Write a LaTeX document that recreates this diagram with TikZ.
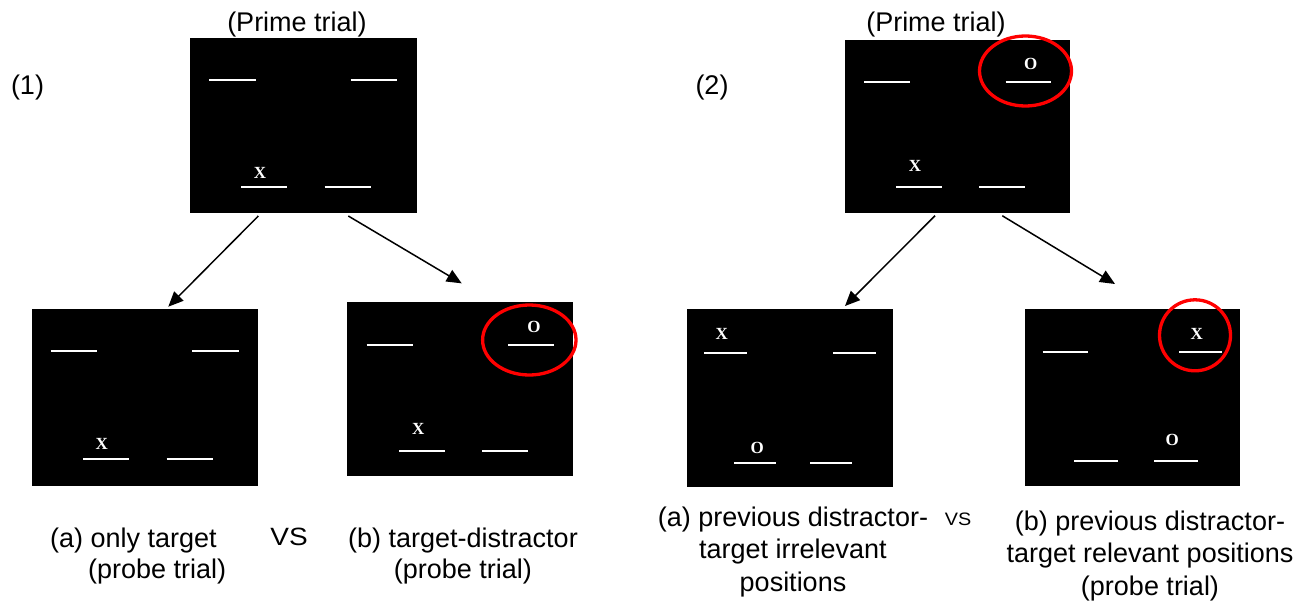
\documentclass[tikz,border=0pt]{standalone}
\usepackage{fontspec}
\usepackage{graphicx}
\setmainfont{Liberation Sans}
\newfontfamily\stimfont{Liberation Serif}
\usetikzlibrary{arrows.meta,calc}
\begin{document}
\begin{tikzpicture}[x=1pt,y=-1pt,
  screen/.style={rectangle, fill=black, draw=none, inner sep=0pt, outer sep=0pt},
  whiteline/.style={white, line width=2pt},
  stim/.style={text=white, font=\stimfont\bfseries\fontsize{17}{17}\selectfont, inner sep=0pt},
  caption/.style={font=\fontsize{27}{31}\selectfont, inner sep=0pt, align=center},
  vstext/.style={inner sep=0pt},
  cue/.style={red, line width=3.3pt},
  conn/.style={black, line width=1.5pt, -{Triangle[length=15pt,width=13pt]}}
]
\useasboundingbox (0,0) rectangle (1312,605);

% ---------- Panel (1) ----------
\node[caption] (t1) at (297,25) {(Prime trial)};
\node[caption] (n1) at (27.5,88) {(1)};

\node[screen, minimum width=227pt, minimum height=175pt] (p1) at (303.5,125.5) {};
\draw[whiteline] (209,80) -- (255.7,80);
\draw[whiteline] (350.7,80) -- (396.7,80);
\draw[whiteline] (241,187.3) -- (287.3,187.3);
\draw[whiteline] (324.7,187.3) -- (370.7,187.3);
\node[stim] (p1x) at (260,173.3) {X};

\node[screen, minimum width=226pt, minimum height=177pt] (a1) at (145,397.5) {};
\draw[whiteline] (50.7,351.3) -- (97.3,351.3);
\draw[whiteline] (192.3,351.3) -- (239,351.3);
\draw[whiteline] (83.3,458.7) -- (129.3,458.7);
\draw[whiteline] (166.7,458.7) -- (212.7,458.7);
\node[stim] (a1x) at (101.7,444) {X};

\node[screen, minimum width=225.4pt, minimum height=173.7pt] (b1) at (460,389.2) {};
\draw[whiteline] (366.7,345) -- (413.3,345);
\draw[whiteline] (508.3,345) -- (554,345);
\draw[whiteline] (399,450.7) -- (445,450.7);
\draw[whiteline] (482.3,450.7) -- (528.3,450.7);
\node[stim] (b1x) at (418.3,429.3) {X};
\node[stim] (b1o) at (534,327.3) {O};
\draw[cue] (529.3,340) ellipse [x radius=46.7, y radius=35];

\draw[conn] ($(p1.south)+(-45.2,3)$) -- ($(a1.north)+(23.3,-2.3)$);
\draw[conn] ($(p1.south)+(44.8,3)$) -- ($(b1.north)+(1.7,-19)$);

\node[caption, align=left, anchor=west] (la1) at (50,556) {(a) only target\\\hspace*{38pt}(probe trial)};
\node[vstext, font=\fontsize{25}{25}\selectfont] (vs1) at (289,537) {\scalebox{1.12}[1]{VS}};
\node[caption] (lb1) at (463,556) {(b) target-distractor\\(probe trial)};

% ---------- Panel (2) ----------
\node[caption] (t2) at (936,25) {(Prime trial)};
\node[caption] (n2) at (712,88) {(2)};

\node[screen, minimum width=225pt, minimum height=172.7pt] (p2) at (957.5,126.4) {};
\draw[whiteline] (864,81.7) -- (910,81.7);
\draw[whiteline] (1005.7,81.7) -- (1051,81.7);
\draw[whiteline] (896,187.3) -- (941.7,187.3);
\draw[whiteline] (979.3,187.3) -- (1025,187.3);
\node[stim] (p2x) at (915,166) {X};
\node[stim] (p2o) at (1030.7,64.3) {O};
\draw[cue] (1025.5,71) ellipse [x radius=46, y radius=35];

\node[screen, minimum width=206pt, minimum height=178pt] (a2) at (789.7,398) {};
\draw[whiteline] (704,352.7) -- (746.7,352.7);
\draw[whiteline] (833.3,352.7) -- (876,352.7);
\draw[whiteline] (734,463.3) -- (775.7,463.3);
\draw[whiteline] (810,463.3) -- (852.3,463.3);
\node[stim] (a2x) at (721.7,334.3) {X};
\node[stim] (a2o) at (757.3,448.3) {O};

\node[screen, minimum width=215pt, minimum height=177pt] (b2) at (1132.5,397.5) {};
\draw[whiteline] (1042.7,352.3) -- (1087.7,352.3);
\draw[whiteline] (1179,352.3) -- (1221.7,352.3);
\draw[whiteline] (1074,460.7) -- (1117.7,460.7);
\draw[whiteline] (1154,460.7) -- (1197.7,460.7);
\node[stim] (b2x) at (1196.7,334) {X};
\node[stim] (b2o) at (1172.3,440) {O};
\draw[cue] (1195,335.3) circle [radius=35.5];

\draw[conn] ($(p2.south)+(-22.5,3)$) -- ($(a2.north)+(55.3,-3)$);
\draw[conn] ($(p2.south)+(44.8,3)$) -- ($(b2.north)+(-17.5,-25)$);

\node[caption, font=\fontsize{27}{32.5}\selectfont] (la2) at (793,552) {(a) previous distractor-\\target irrelevant\\positions};
\node[vstext, font=\fontsize{18}{18}\selectfont] (vs2) at (958,519) {\scalebox{1.1}[1]{VS}};
\node[caption, font=\fontsize{27}{32.5}\selectfont] (lb2) at (1150,556) {(b) previous distractor-\\target relevant positions\\(probe trial)};
\end{tikzpicture}
\end{document}
